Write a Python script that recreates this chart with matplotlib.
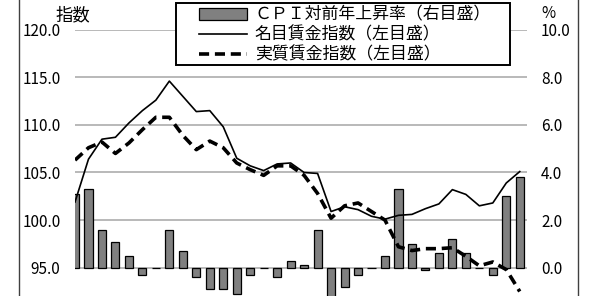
import matplotlib
matplotlib.use("Agg")
import matplotlib.pyplot as plt
from matplotlib.patches import Patch, Rectangle
from matplotlib.lines import Line2D

plt.rcParams['font.family'] = ['Noto Sans CJK JP', 'DejaVu Sans']

# CPI 対前年上昇率 (%) 右目盛
cpi = [3.1, 3.3, 1.6, 1.1, 0.5, -0.3, 0.0, 1.6, 0.7, -0.4, -0.9, -0.9, -1.1, -0.3,
       0.0, -0.4, 0.3, 0.1, 1.6, -1.4, -0.8, -0.3, 0.0, 0.5, 3.3, 1.0, -0.1, 0.6,
       1.2, 0.6, 0.0, -0.3, 3.0, 3.8]
# 名目賃金指数 左目盛
nominal = [101.9, 106.4, 108.5, 108.7, 110.2, 111.5, 112.6, 114.6, 113.0, 111.4,
           111.5, 109.8, 106.5, 105.7, 105.2, 105.9, 106.0, 105.0, 104.9, 100.9,
           101.4, 101.1, 100.4, 100.1, 100.5, 100.6, 101.2, 101.7, 103.2, 102.7,
           101.5, 101.8, 103.9, 105.1]
# 実質賃金指数 左目盛
real = [106.3, 107.6, 108.2, 107.0, 108.1, 109.5, 110.8, 110.8, 108.9, 107.4,
        108.3, 107.6, 106.0, 105.3, 104.7, 105.7, 105.7, 104.7, 102.8, 100.2,
        101.5, 101.8, 100.9, 100.0, 97.2, 96.8, 97.0, 97.0, 97.1, 96.2,
        95.2, 95.6, 94.8, 92.5]

left_ticks = [95, 100, 105, 110, 115, 120]
right_ticks = [0, 2, 4, 6, 8, 10]

x = list(range(len(cpi)))

fig = plt.figure(figsize=(5.92, 2.96), dpi=100)
W, H = 592.0, 296.0
# plot area: x 75..526.5 px, 120 at y=29.7, 90 at y=315.3 (below the picture edge)
ax = fig.add_axes([75 / W, 1 - 315.3 / H, 451.5 / W, (315.3 - 29.7) / H])
ax2 = ax.twinx()

# bars on the secondary axis, drawn underneath
ax2.bar(x, cpi, width=0.6, color='#808080', edgecolor='black', linewidth=0.9, zorder=2)
ax2.set_ylim(-2, 10)
ax2.set_yticks(right_ticks)
ax2.set_yticklabels(['%.1f' % v for v in right_ticks])
ax2.grid(axis='y', color='#a6a6a6', linewidth=1.1, zorder=0)
ax2.set_axisbelow(True)

# lines on primary axis, on top
ax.set_zorder(ax2.get_zorder() + 1)
ax.patch.set_visible(False)
ax.plot(x, nominal, color='black', linewidth=1.2, zorder=3)
ax.plot(x, real, color='black', linewidth=2.6, dashes=(2.8, 1.6), zorder=3)
ax.set_ylim(90, 120)
ax.set_yticks(left_ticks)
ax.set_yticklabels(['%.1f' % v for v in left_ticks])
ax.set_xlim(0, 33.5)
ax.set_xticks([])

for a in (ax, ax2):
    for s in a.spines.values():
        s.set_visible(False)
    a.tick_params(axis='y', length=0, labelsize=11, pad=10.5, colors='black')

fig.text(73 / W, 1 - 15 / H, '指数', fontsize=12.5, ha='center', va='center')
fig.text(548 / W, 1 - 13 / H, '%', fontsize=11, ha='center', va='center')

# legend box drawn by hand, entries placed inside it
fig.add_artist(Rectangle((176 / W, 1 - 65 / H), (510 - 176) / W, 62 / H,
                         transform=fig.transFigure, facecolor='white',
                         edgecolor='black', linewidth=1.4, zorder=5))
handles = [
    Patch(facecolor='#808080', edgecolor='black', linewidth=0.9),
    Line2D([0], [0], color='black', linewidth=1.2),
    Line2D([0], [0], color='black', linewidth=2.6, dashes=(2.8, 1.6)),
]
labels = ['ＣＰＩ対前年上昇率（右目盛）', '名目賃金指数（左目盛）', '実質賃金指数（左目盛）']
leg = fig.legend(handles, labels, loc='upper left', bbox_to_anchor=(199 / W, 1 - 5.5 / H),
                 fontsize=12.2, frameon=False, handlelength=2.85, handletextpad=0.45,
                 borderpad=0, labelspacing=0.12, borderaxespad=0)
leg.set_zorder(6)

# chart area border
for px in (19, 578):
    fig.add_artist(Line2D([px / W, px / W], [0, 1], transform=fig.transFigure,
                          color='#404040', linewidth=1))

fig.savefig('out.png', dpi=100)
